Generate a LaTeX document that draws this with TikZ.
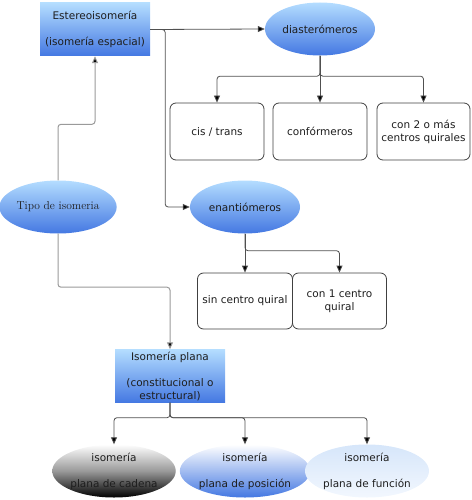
\documentclass[tikz,border=0pt]{standalone}
\usepackage{fontspec}
\setmainfont{DejaVu Sans}
\newfontfamily\lmserif{Latin Modern Roman}
\usetikzlibrary{shapes.geometric,arrows.meta}
\definecolor{bluetop}{HTML}{B4DDFF}
\definecolor{bluebot}{HTML}{4478E2}
\definecolor{linedark}{HTML}{505050}
\definecolor{linelight}{HTML}{9A9A9A}
\definecolor{txt}{HTML}{1E1E1E}
\definecolor{funtop}{HTML}{D6E6FA}
\definecolor{funbot}{HTML}{F2F7FE}
\begin{document}
\begin{tikzpicture}[x=1pt,y=-1pt,
  every node/.style={font=\fontsize{10.5}{13}\selectfont, text=txt, align=center, inner sep=0pt},
  bluebox/.style={rectangle, minimum width=110pt, minimum height=53pt, top color=bluetop, bottom color=bluebot, draw=none},
  blueell/.style={ellipse, minimum width=110pt, minimum height=53pt, top color=bluetop, bottom color=bluebot, draw=none},
  whitebox/.style={rectangle, rounded corners=6pt, draw=black!75, line width=0.8pt, fill=white, minimum width=94pt, minimum height=57pt},
  conn/.style={draw=linedark, line width=0.8pt, rounded corners=3pt},
  connlight/.style={draw=linelight, line width=1pt, rounded corners=3pt},
  arr/.style={-{Triangle[length=7pt,width=6pt,fill=black]}}
]
\useasboundingbox (0,0) rectangle (471,500);

\node[bluebox] (estereo) at (95,29.5) {Estereoisomería\\[13pt](isomería espacial)};
\node[blueell] (diast) at (320,29) {diasterómeros};
\node[blueell, font=\lmserif\fontsize{11.5}{13}\selectfont] (tipo) at (58,207) {Tipo de isomeria};
\node[blueell] (enant) at (245,207) {enantiómeros};

\node[whitebox] (cis) at (217,131.5) {cis / trans};
\node[whitebox] (conf) at (320,131.5) {confórmeros};
\node[whitebox, minimum width=93pt] (con2) at (423.5,131.5) {con 2 o más\\centros quirales};

\node[whitebox, minimum width=95pt, minimum height=56pt] (sin) at (245,301) {sin centro quiral};
\node[whitebox, minimum width=94pt, minimum height=56pt] (con1) at (339.5,301) {con 1 centro\\quiral};

\node[bluebox] (plana) at (170,376) {Isomería plana\\[13pt](constitucional o\\estructural)};

\node[ellipse, minimum width=110pt, minimum height=53pt, top color=white, bottom color=black, middle color=black!40] (cad) at (114,471) {isomería\\[13pt]plana de cadena};
\node[ellipse, minimum width=110pt, minimum height=53pt, top color=white, bottom color=bluebot] (pos) at (245,471) {isomería\\[13pt]plana de posición};
\node[ellipse, minimum width=110pt, minimum height=53pt, top color=funtop, bottom color=funbot] (fun) at (367,471) {isomería\\[13pt]plana de función};

% Estereoisomeria branches
\draw[conn,arr] (estereo.east) -- (diast.west);
\draw[conn,arr] (estereo.east) -- ++(15,0) |- (enant.west);

% diasteromeros
\draw[conn,arr] (diast.south) -- ++(0,20.5) -| (cis.north);
\draw[conn,arr] (diast.south) -- (conf.north);
\draw[conn,arr] (diast.south) -- ++(0,20.5) -| (con2.north);

% enantiomeros
\draw[conn,arr] (enant.south) -- (sin.north);
\draw[conn,arr] (enant.south) -- ++(0,17) -| (con1.north);

% Tipo de isomeria
\draw[connlight,arr] (tipo.north) -- ++(0,-56) -| (estereo.south);
\draw[connlight,arr] (tipo.south) -- ++(0,53.5) -| (plana.north);

% Isomeria plana
\draw[conn,arr] (plana.south) -- ++(0,15) -| (cad.north);
\draw[conn,arr] (plana.south) -- ++(0,15) -| (pos.north);
\draw[conn,arr] (plana.south) -- ++(0,15) -| (fun.north);
\end{tikzpicture}
\end{document}
